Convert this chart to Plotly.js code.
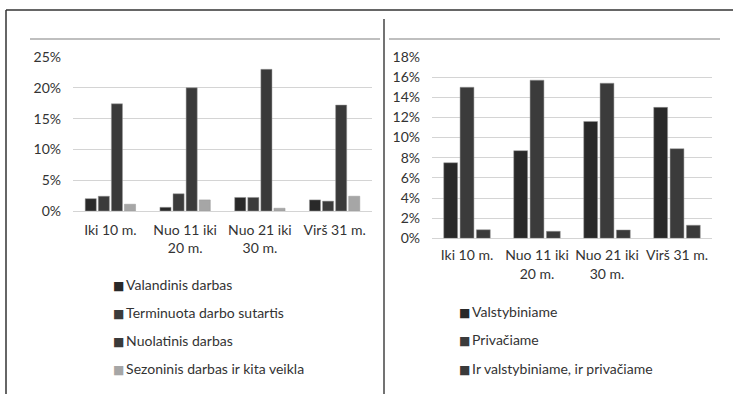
<!DOCTYPE html>
<html>
<head>
<meta charset="utf-8">
<script src="https://cdn.plot.ly/plotly-3.0.1.min.js"></script>
<style>html,body{margin:0;padding:0;background:#fff;}#chart{width:733px;height:394px;}</style>
</head>
<body>
<div id="chart"></div>
<script>
// Left chart data
const categories = ["Iki 10 m.", "Nuo 11 iki<br>20 m.", "Nuo 21 iki<br>30 m.", "Virš 31 m."];
const leftNames = ["Valandinis darbas", "Terminuota darbo sutartis", "Nuolatinis darbas", "Sezoninis darbas ir kita veikla"];
const valandinis = [0.020, 0.006, 0.022, 0.018];
const terminuota = [0.024, 0.028, 0.022, 0.016];
const nuolatinis = [0.174, 0.200, 0.230, 0.172];
const sezoninis = [0.011, 0.018, 0.0045, 0.024];

// Right chart data
const rightNames = ["Valstybiniame", "Privačiame", "Ir valstybiniame, ir privačiame"];
const valstybiniame = [0.075, 0.087, 0.116, 0.130];
const privaciame = [0.150, 0.157, 0.154, 0.089];
const abiem = [0.0085, 0.007, 0.0083, 0.013];

const leftColors = ["#292929", "#3b3b3b", "#3a3a3a", "#a6a6a6"];
const rightColors = ["#292929", "#3b3b3b", "#3a3a3a"];

const font = {family: "Lato, 'Open Sans', sans-serif", size: 14, color: "#333333"};

const traces = [];
[valandinis, terminuota, nuolatinis, sezoninis].forEach((vals, i) => {
  traces.push({type: "bar", x: categories, y: vals, name: leftNames[i],
    marker: {color: leftColors[i], line: {color: "#9a9a9a", width: 0.5}},
    xaxis: "x", yaxis: "y", showlegend: false, hoverinfo: "skip"});
});
[valstybiniame, privaciame, abiem].forEach((vals, i) => {
  traces.push({type: "bar", x: categories, y: vals, name: rightNames[i],
    marker: {color: rightColors[i], line: {color: "#9a9a9a", width: 0.5}},
    xaxis: "x2", yaxis: "y2", showlegend: false, hoverinfo: "skip"});
});

const W = 733, H = 394;
const px = v => v / W, py = v => 1 - v / H;

// Legend entries as text (colour square + series name)
const annotations = [];
const legendEntry = (name, color, x, y) => ({
  xref: "paper", yref: "paper", x: px(x), y: py(y), xanchor: "left", yanchor: "middle",
  showarrow: false, font: font,
  text: `<span style="color:${color};font-family:'DejaVu Sans';font-size:12px">■</span>\u2009${name}`
});
leftNames.forEach((n, i) => annotations.push(legendEntry(n, leftColors[i], 111, 284 + i * 28.3)));
rightNames.forEach((n, i) => annotations.push(legendEntry(n, rightColors[i], 457, 311.5 + i * 28.3)));

const layout = {
  width: W, height: H,
  margin: {l: 0, r: 0, t: 0, b: 0},
  paper_bgcolor: "#fff", plot_bgcolor: "#fff",
  font: font,
  barmode: "group",
  bargap: 0.3, bargroupgap: 0.15,
  showlegend: false,
  xaxis: {domain: [px(73), px(372)], anchor: "y", showgrid: false, showline: false, zeroline: false,
    ticks: "", tickfont: font, ticklabelstandoff: 9, fixedrange: true},
  yaxis: {domain: [py(211), py(57)], anchor: "x", range: [0, 0.25], dtick: 0.05, tickformat: ".0%",
    showgrid: true, gridcolor: "#d4d4d4", gridwidth: 1, zeroline: true, zerolinecolor: "#d4d4d4",
    showline: false, ticks: "", tickfont: font, ticklabelstandoff: 11},
  xaxis2: {domain: [px(432), px(712)], anchor: "y2", showgrid: false, showline: false, zeroline: false,
    ticks: "", tickfont: font, ticklabelstandoff: 7},
  yaxis2: {domain: [py(238.3), py(57)], anchor: "x2", range: [0, 0.18], dtick: 0.02, tickformat: ".0%",
    showgrid: true, gridcolor: "#d4d4d4", gridwidth: 1, zeroline: true, zerolinecolor: "#d4d4d4",
    showline: false, ticks: "", tickfont: font, ticklabelstandoff: 11},
  annotations: annotations,
  shapes: [
    {type: "line", xref: "paper", yref: "paper", x0: px(6), x1: 1, y0: py(10), y1: py(10), line: {color: "#333", width: 1.5}},
    {type: "line", xref: "paper", yref: "paper", x0: px(6), x1: px(6), y0: py(10), y1: 0, line: {color: "#333", width: 1.5}},
    {type: "line", xref: "paper", yref: "paper", x0: px(384), x1: px(384), y0: py(19), y1: 0, line: {color: "#444", width: 1.5}},
    {type: "line", xref: "paper", yref: "paper", x0: px(30), x1: px(380), y0: py(39), y1: py(39), line: {color: "#bfbfbf", width: 2}},
    {type: "line", xref: "paper", yref: "paper", x0: px(389), x1: px(720), y0: py(39), y1: py(39), line: {color: "#bfbfbf", width: 2}}
  ]
};

Plotly.newPlot("chart", traces, layout, {staticPlot: true, displayModeBar: false});
</script>
</body>
</html>
